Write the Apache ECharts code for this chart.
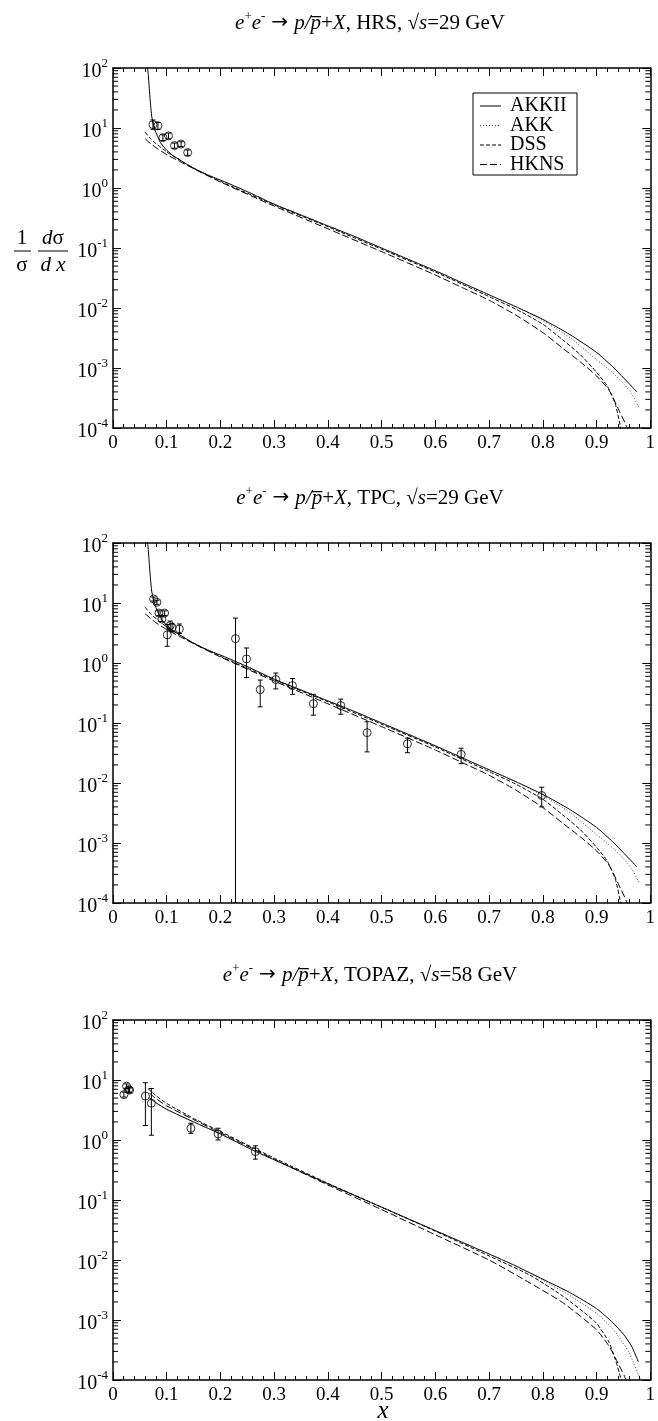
<!DOCTYPE html>
<html>
<head>
<meta charset="utf-8">
<script src="https://cdn.jsdelivr.net/npm/echarts@6/dist/echarts.min.js"></script>
<style>
html, body { margin: 0; padding: 0; background: #fff; }
#chart { width: 658px; height: 1421px; }
</style>
</head>
<body>
<div id="chart"></div>
<script>
// ---- tick labels ----
const xTickLabels = ['0', '0.1', '0.2', '0.3', '0.4', '0.5', '0.6', '0.7', '0.8', '0.9', '1'];
const yDecades = [-4, -3, -2, -1, 0, 1, 2];
const modelNames = ['AKKII', 'AKK', 'DSS', 'HKNS'];

// ---- model curves, sqrt(s) = 29 GeV : [x, (1/sigma) dsigma/dx] ----
const akkii29 = [[0.0642,105],[0.066,71],[0.068,40],[0.070,24],[0.072,15.8],[0.075,11.5],[0.078,9.3],[0.082,7.6],[0.087,6.0],[0.093,5.0],[0.10,4.27],[0.11,3.55],[0.124,2.95],[0.14,2.4],[0.161,1.9],[0.18,1.6],[0.21,1.245],[0.25,0.87],[0.30,0.537],[0.35,0.355],[0.40,0.234],[0.45,0.155],[0.50,0.100],[0.55,0.0646],[0.60,0.0417],[0.65,0.0263],[0.70,0.0166],[0.75,0.0105],[0.80,0.00646],[0.85,0.00363],[0.90,0.00182],[0.93,0.00105],[0.95,0.00069],[0.965,0.0005],[0.975,0.0004]];
const akk29 = [[0.075,11.5],[0.078,9.3],[0.082,7.6],[0.087,6.0],[0.093,5.0],[0.10,4.27],[0.11,3.55],[0.124,2.95],[0.14,2.4],[0.161,1.9],[0.18,1.6],[0.21,1.245],[0.25,0.87],[0.30,0.537],[0.35,0.355],[0.40,0.234],[0.45,0.155],[0.50,0.100],[0.55,0.0646],[0.60,0.0417],[0.65,0.0263],[0.70,0.0166],[0.75,0.0105],[0.80,0.00617],[0.85,0.00324],[0.90,0.00138],[0.93,0.00083],[0.95,0.00055],[0.965,0.00038],[0.98,0.00021]];
const dss29 = [[0.06,8.5],[0.07,6.6],[0.08,5.5],[0.10,4.0],[0.12,3.1],[0.15,2.14],[0.20,1.29],[0.30,0.525],[0.40,0.226],[0.50,0.0955],[0.60,0.0398],[0.70,0.0155],[0.75,0.00955],[0.80,0.00537],[0.837,0.00295],[0.87,0.00166],[0.90,0.00085],[0.92,0.0005],[0.935,0.00025],[0.945,0.0001],[0.95,0.00006]];
const hkns29 = [[0.06,6.6],[0.07,5.5],[0.08,4.7],[0.10,3.6],[0.12,2.9],[0.15,2.1],[0.20,1.26],[0.30,0.50],[0.40,0.209],[0.50,0.087],[0.60,0.0355],[0.65,0.0219],[0.70,0.0135],[0.75,0.0076],[0.80,0.0039],[0.837,0.00214],[0.87,0.00126],[0.90,0.00074],[0.923,0.00043],[0.9415,0.0002],[0.957,0.0001],[0.962,0.00006]];

// ---- model curves, sqrt(s) = 58 GeV ----
const akkii58 = [[0.068,5.0],[0.08,4.17],[0.10,3.24],[0.15,2.0],[0.20,1.26],[0.265,0.646],[0.30,0.468],[0.40,0.186],[0.50,0.0759],[0.60,0.0309],[0.70,0.0126],[0.75,0.00794],[0.80,0.00479],[0.85,0.00288],[0.90,0.00155],[0.93,0.00091],[0.95,0.00058],[0.965,0.00037],[0.978,0.0002]];
const akk58 = [[0.068,5.0],[0.08,4.17],[0.10,3.24],[0.15,2.0],[0.20,1.26],[0.265,0.646],[0.30,0.468],[0.40,0.186],[0.50,0.0759],[0.60,0.0309],[0.70,0.0126],[0.75,0.00794],[0.80,0.00457],[0.85,0.00257],[0.90,0.00129],[0.93,0.00072],[0.96,0.00029],[0.982,0.0001],[0.985,0.00008]];
const dss58 = [[0.065,7.2],[0.08,5.5],[0.10,4.07],[0.15,2.29],[0.20,1.38],[0.30,0.50],[0.40,0.19],[0.50,0.0759],[0.60,0.0302],[0.70,0.0117],[0.7755,0.00562],[0.837,0.00251],[0.8985,0.00091],[0.923,0.00043],[0.935,0.00022],[0.946,0.0001],[0.95,0.00006]];
const hkns58 = [[0.068,6.0],[0.08,4.9],[0.10,3.7],[0.15,2.19],[0.20,1.32],[0.30,0.479],[0.40,0.178],[0.50,0.0692],[0.60,0.0263],[0.70,0.0100],[0.7755,0.00417],[0.837,0.00195],[0.8985,0.00071],[0.923,0.00037],[0.94,0.00019],[0.955,0.0001],[0.96,0.00006]];

// ---- measurements: [x, value, lower, upper] ----
const hrsData = [[0.0744,11.4,9.5,13.6],[0.0836,10.9,9.5,12.4],[0.0929,6.9,6.2,7.7],[0.1033,7.4,6.6,8.2],[0.1144,5.1,4.6,5.6],[0.1267,5.4,4.9,5.9],[0.139,3.9,3.5,4.3]];
const tpcData = [[0.0756,11.7,10.8,12.6],[0.0818,10.3,9.5,11.1],[0.0855,6.8,6.2,7.4],[0.091,5.4,4.9,5.9],[0.096,6.8,6.2,7.4],[0.101,2.95,1.9,4.4],[0.1064,4.2,3.5,5.0],[0.110,3.9,3.3,4.5],[0.1236,3.7,3.1,4.47],[0.228,2.55,0.0001,5.6],[0.2485,1.17,0.57,1.78],[0.274,0.36,0.186,0.52],[0.303,0.53,0.37,0.68],[0.334,0.42,0.30,0.55],[0.373,0.21,0.135,0.30],[0.424,0.195,0.14,0.25],[0.473,0.069,0.033,0.105],[0.548,0.045,0.032,0.056],[0.648,0.030,0.021,0.038],[0.798,0.0062,0.004,0.0085]];
const topazData = [[0.0203,5.7,5.2,6.3],[0.0252,7.9,7.2,8.6],[0.029,6.9,6.3,7.6],[0.031,6.8,6.2,7.4],[0.0603,5.4,1.74,9.0],[0.0714,4.1,1.2,7.2],[0.145,1.57,1.29,1.9],[0.1956,1.26,1.0,1.57],[0.265,0.64,0.48,0.80]];

const experiments = ['HRS', 'TPC', 'TOPAZ'];
const energies = ['29', '29', '58'];

// ---- layout and styles ----
const FONT = 'Liberation Serif';
const PLOT_LEFT = 113, PLOT_WIDTH = 541, PLOT_HEIGHT = 360;
const panelTops = [68, 543, 1020];
const lineStyles = {
  AKKII: { color: '#000', width: 1, type: 'solid' },
  AKK:   { color: '#444', width: 1, type: [1, 2] },
  DSS:   { color: '#000', width: 1, type: [4, 2] },
  HKNS:  { color: '#000', width: 1, type: [7, 3] }
};
const panelCurves = [
  { AKKII: akkii29, AKK: akk29, DSS: dss29, HKNS: hkns29 },
  { AKKII: akkii29, AKK: akk29, DSS: dss29, HKNS: hkns29 },
  { AKKII: akkii58, AKK: akk58, DSS: dss58, HKNS: hkns58 }
];
const panelPoints = [hrsData, tpcData, topazData];

// minor ticks of the log axis at 2..9 x 10^n
const minorYTicks = [];
yDecades.slice(0, -1).forEach(function (d) {
  for (let m = 2; m <= 9; m++) minorYTicks.push(m * Math.pow(10, d));
});

const grids = [], xAxes = [], yAxes = [], series = [];

panelTops.forEach(function (top, i) {
  grids.push({ left: PLOT_LEFT, width: PLOT_WIDTH, top: top, height: PLOT_HEIGHT, containLabel: false });
  const tickCommon = { inside: true, length: 8, lineStyle: { color: '#000', width: 1 } };
  const axisLine = { show: true, onZero: false, lineStyle: { color: '#000', width: 1.5 } };
  // bottom x axis (labelled) and top mirror
  ['bottom', 'top'].forEach(function (pos) {
    xAxes.push({
      gridIndex: i, type: 'value', position: pos, min: 0, max: 1, interval: 0.1,
      axisLine: axisLine, axisTick: tickCommon,
      minorTick: { show: true, splitNumber: 5, length: 4, lineStyle: { color: '#000', width: 1 } },
      splitLine: { show: false }, minorSplitLine: { show: false },
      axisLabel: pos === 'bottom' ? {
        show: true, margin: 6, color: '#000', fontFamily: FONT, fontSize: 19,
        formatter: function (v) { return xTickLabels[Math.round(v * 10)]; }
      } : { show: false }
    });
  });
  ['left', 'right'].forEach(function (pos) {
    yAxes.push({
      gridIndex: i, type: 'log', logBase: 10, position: pos, min: 1e-4, max: 100, splitNumber: 6,
      axisLine: axisLine, axisTick: tickCommon,
      splitLine: { show: false },
      axisLabel: pos === 'left' ? {
        show: true, margin: 5, color: '#000',
        formatter: function (v) { return '{b|10}{s|' + Math.round(Math.log10(v)) + '}'; },
        rich: {
          b: { fontFamily: FONT, fontSize: 20, color: '#000', lineHeight: 22, padding: [8, 0, 0, 0] },
          s: { fontFamily: FONT, fontSize: 13, color: '#000', lineHeight: 14, verticalAlign: 'top' }
        }
      } : { show: false }
    });
  });

  const xi = 2 * i, yi = 2 * i;
  // model curves
  modelNames.forEach(function (name) {
    series.push({
      type: 'line', name: name, xAxisIndex: xi, yAxisIndex: yi,
      data: panelCurves[i][name], showSymbol: false, symbol: 'none',
      smooth: 0.2, clip: true, silent: true,
      lineStyle: lineStyles[name], z: 3
    });
  });
  // error bars
  series.push({
    type: 'custom', xAxisIndex: xi, yAxisIndex: yi, silent: true, clip: true,
    data: panelPoints[i], encode: { x: 0, y: 1 }, z: 4,
    renderItem: function (params, api) {
      const x = api.value(0);
      const hi = api.coord([x, api.value(3)]);
      const lo = api.coord([x, api.value(2)]);
      const cw = 2.5;
      const st = { stroke: '#000', lineWidth: 1 };
      return {
        type: 'group', children: [
          { type: 'line', shape: { x1: hi[0], y1: hi[1], x2: lo[0], y2: lo[1] }, style: st },
          { type: 'line', shape: { x1: hi[0] - cw, y1: hi[1], x2: hi[0] + cw, y2: hi[1] }, style: st },
          { type: 'line', shape: { x1: lo[0] - cw, y1: lo[1], x2: lo[0] + cw, y2: lo[1] }, style: st }
        ]
      };
    }
  });
  // open circle markers
  series.push({
    type: 'scatter', xAxisIndex: xi, yAxisIndex: yi, silent: true,
    data: panelPoints[i].map(function (p) { return [p[0], p[1]]; }),
    symbol: 'circle', symbolSize: 8, z: 5,
    itemStyle: { color: 'rgba(0,0,0,0)', borderColor: '#000', borderWidth: 1 }
  });
  // log minor ticks on left and right axes
  series.push({
    type: 'custom', xAxisIndex: xi, yAxisIndex: yi, silent: true, z: 6,
    data: minorYTicks.map(function (v) { return [0.5, v]; }), encode: { x: 0, y: 1 },
    renderItem: function (params, api) {
      const v = api.value(1);
      const l = api.coord([0, v]);
      const r = api.coord([1, v]);
      const st = { stroke: '#000', lineWidth: 1 };
      return {
        type: 'group', children: [
          { type: 'line', shape: { x1: l[0], y1: l[1], x2: l[0] + 5, y2: l[1] }, style: st },
          { type: 'line', shape: { x1: r[0] - 5, y1: r[1], x2: r[0], y2: r[1] }, style: st }
        ]
      };
    }
  });
});

// ---- text and legend drawn as graphic elements ----
const graphics = [];
const titleRich = {
  n: { fontFamily: FONT, fontSize: 21, color: '#000', lineHeight: 25 },
  i: { fontFamily: FONT, fontSize: 21, fontStyle: 'italic', color: '#000', lineHeight: 25 },
  a: { fontFamily: 'DejaVu Sans', fontSize: 20, color: '#000', lineHeight: 25, padding: [0, 6, 0, 6] },
  sup: { fontFamily: FONT, fontSize: 13, color: '#000', lineHeight: 13, verticalAlign: 'top' }
};
panelTops.forEach(function (top, i) {
  graphics.push({
    type: 'text', x: 370, y: top - 45,
    style: {
      text: '{i|e}{sup|+}{i|e}{sup|-}{a|\u2192}{i|p/p\u0305}{n|+}{i|X}{n|, ' + experiments[i] + ', \u221A}{i|s}{n|=' + energies[i] + ' GeV}',
      rich: titleRich, align: 'center', verticalAlign: 'middle'
    }
  });
});

// y-axis title: (1/sigma) (d sigma / d x)
const fracFont = { fontFamily: FONT, fontSize: 21, fill: '#000' };
function fracText(t, x, y, italic) {
  return { type: 'text', x: x, y: y, style: Object.assign({ text: t, align: 'center', verticalAlign: 'middle', fontStyle: italic ? 'italic' : 'normal' }, fracFont) };
}
graphics.push(fracText('1', 22, 238, false));
graphics.push(fracText('\u03C3', 22, 265, false));
graphics.push({ type: 'line', shape: { x1: 14, y1: 251, x2: 31, y2: 251 }, style: { stroke: '#000', lineWidth: 1 } });
graphics.push({ type: 'text', x: 53, y: 238, style: { text: '{i|d}{n|\u03C3}', align: 'center', verticalAlign: 'middle', rich: { i: { fontFamily: FONT, fontSize: 21, fontStyle: 'italic' }, n: { fontFamily: FONT, fontSize: 21 } } } });
graphics.push(fracText('d x', 53, 265, true));
graphics.push({ type: 'line', shape: { x1: 38, y1: 251, x2: 68, y2: 251 }, style: { stroke: '#000', lineWidth: 1 } });

// x-axis name under the last panel
graphics.push({ type: 'text', x: 383, y: 1411, style: { text: 'x', fontFamily: FONT, fontSize: 25, fontStyle: 'italic', fill: '#000', align: 'center', verticalAlign: 'middle' } });

// legend box
const LEG = { x: 473, y: 93, w: 104, rowH: 19.5, first: 106 };
graphics.push({ type: 'rect', shape: { x: LEG.x, y: LEG.y, width: LEG.w, height: 82 }, style: { fill: '#fff', stroke: '#000', lineWidth: 1 }, z: 10 });
modelNames.forEach(function (name, k) {
  const cy = LEG.first + k * LEG.rowH;
  const ls = lineStyles[name];
  graphics.push({ type: 'line', shape: { x1: 480, y1: cy, x2: 501, y2: cy }, style: { stroke: ls.color, lineWidth: 1, lineDash: ls.type === 'solid' ? null : ls.type }, z: 11 });
  graphics.push({ type: 'text', x: 510, y: cy, style: { text: name, fontFamily: FONT, fontSize: 20, fill: '#000', align: 'left', verticalAlign: 'middle' }, z: 11 });
});

const chart = echarts.init(document.getElementById('chart'), null, { renderer: 'canvas' });
chart.setOption({
  animation: false,
  backgroundColor: '#fff',
  grid: grids,
  xAxis: xAxes,
  yAxis: yAxes,
  series: series,
  graphic: graphics
});
</script>
</body>
</html>
